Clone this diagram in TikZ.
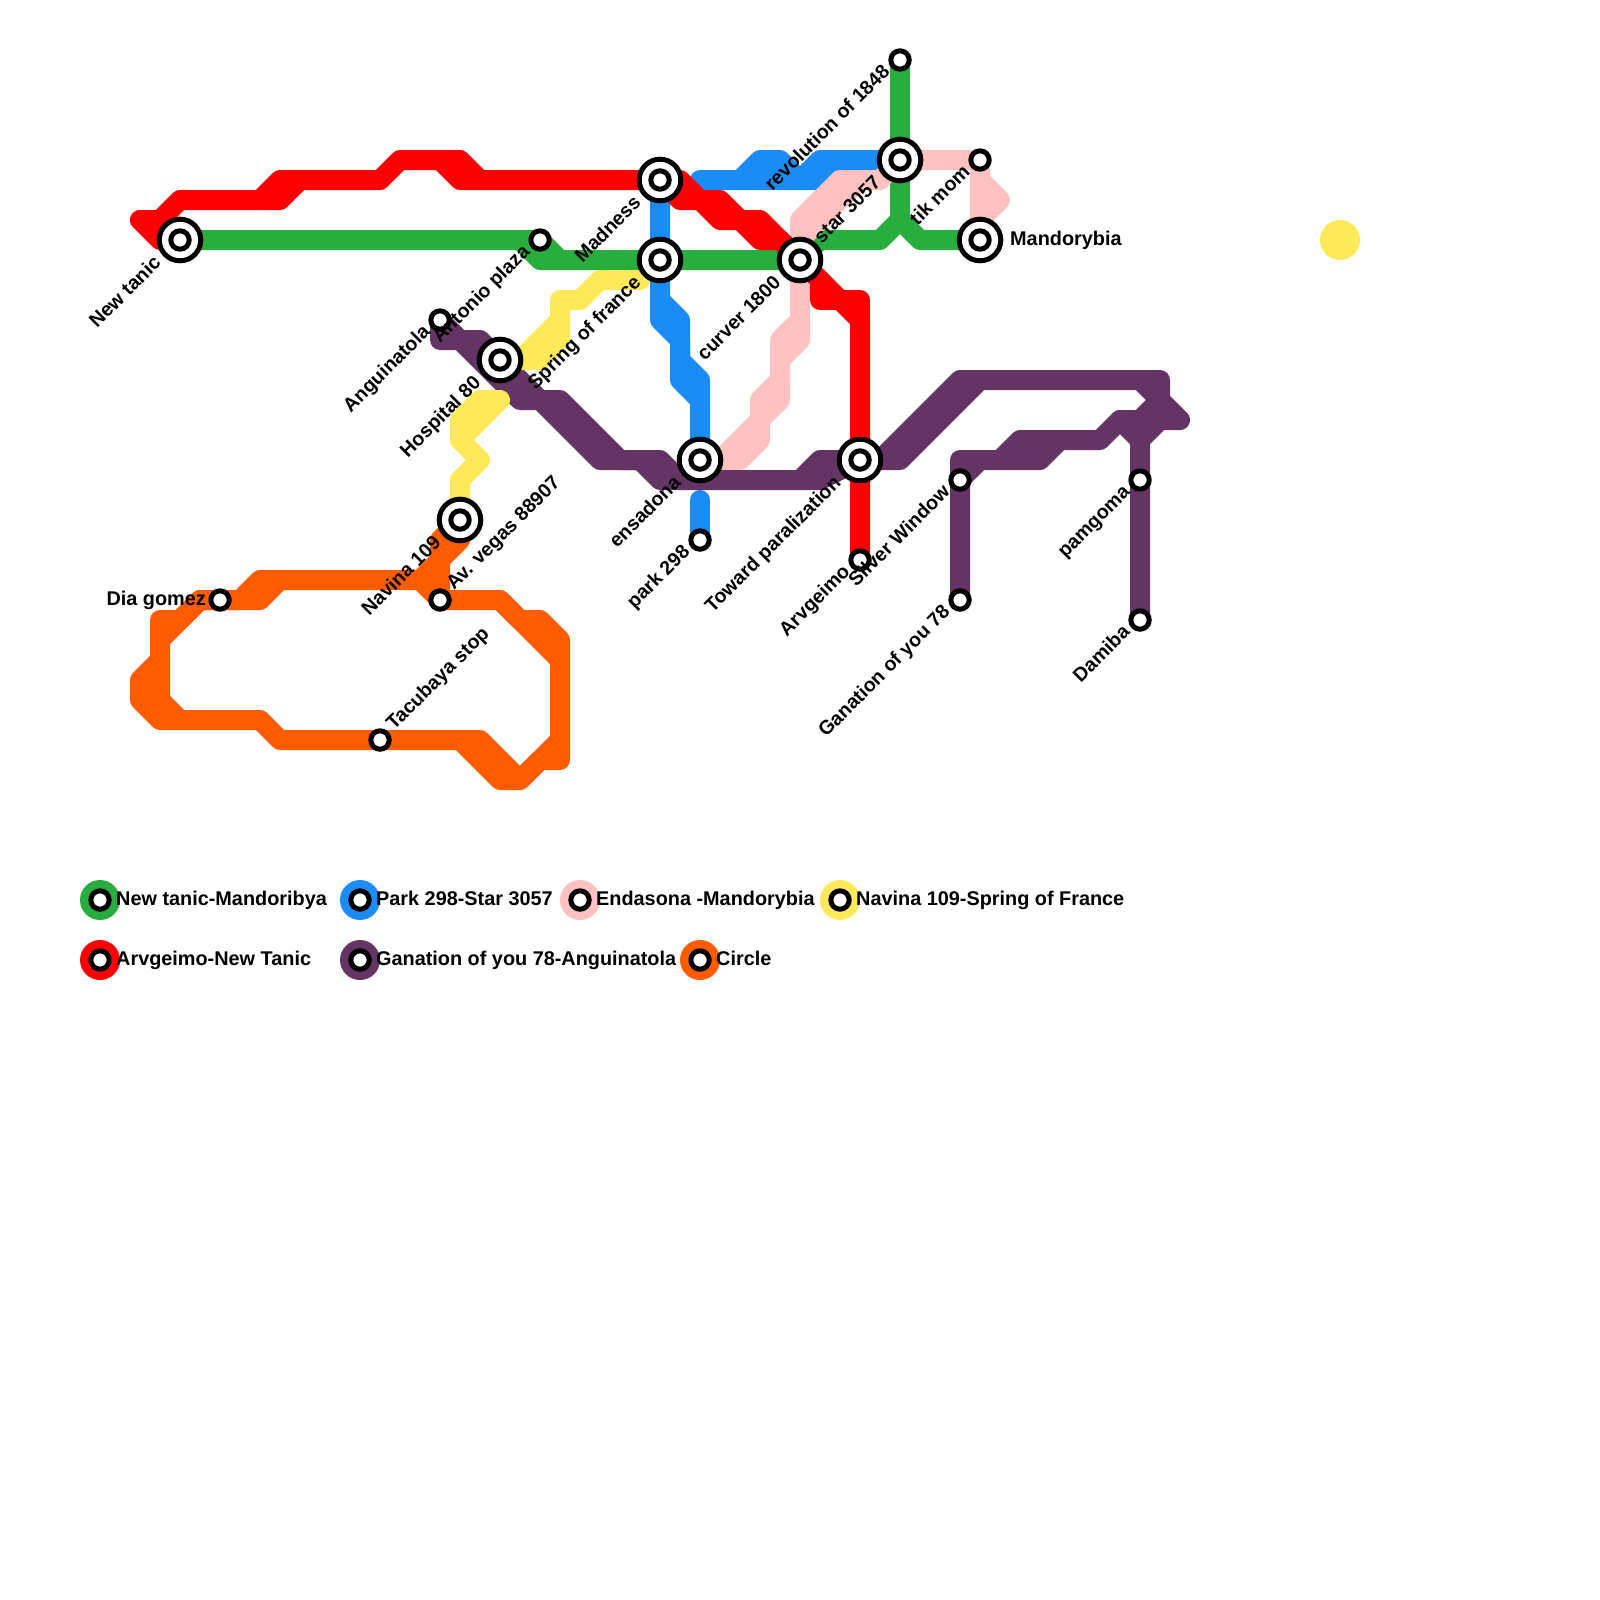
\documentclass[tikz,border=0pt]{standalone}
\usepackage{fontspec}
\setmainfont{Liberation Sans}
\usetikzlibrary{positioning, backgrounds}
\definecolor{linegreen}{RGB}{41,173,63}
\definecolor{lineblue}{RGB}{27,140,245}
\definecolor{linepink}{RGB}{255,193,193}
\definecolor{linered}{RGB}{255,0,0}
\definecolor{linepurple}{RGB}{99,52,100}
\definecolor{lineyellow}{RGB}{255,233,88}
\definecolor{lineorange}{RGB}{255,92,0}

\begin{document}
\begin{tikzpicture}[
    x=1pt, y=-1pt,
    metroline/.style={line width=20pt, line cap=round, line join=round},
    stopnode/.style={circle, draw=black, fill=white, line width=5pt, inner sep=0pt, minimum size=18.4pt},
    hubnode/.style={circle, draw=black, fill=white, line width=5pt, inner sep=0pt, minimum size=41.6pt},
    keydot/.style={circle, inner sep=0pt, minimum size=40pt},
    nametext/.style={font=\fontsize{19.85}{24}\selectfont\bfseries, inner sep=0pt},
    tag/.style={nametext, font=\fontsize{19.6}{24}\selectfont\bfseries, rotate=45, anchor=base east},
    hubtag/.style={below left=24pt and 18pt of #1.center, tag},
    stoptag/.style={below left=13pt and 9pt of #1.center, tag},
    uptag/.style={above right=9pt and 14pt of #1.center, tag, anchor=base west},
    keytext/.style={nametext, anchor=base west},
]
\useasboundingbox (0,0) rectangle (1600,1600);

% Interchanges
\node[hubnode] (newtanic) at (180,240) {};
\node[hubnode] (madness) at (660,180) {};
\node[hubnode] (springfr) at (660,260) {};
\node[hubnode] (curver) at (800,260) {};
\node[hubnode] (star) at (900,160) {};
\node[hubnode] (mandorybia) at (980,240) {};
\node[hubnode] (hospital) at (500,360) {};
\node[hubnode] (navina) at (460,520) {};
\node[hubnode] (ensadona) at (700,460) {};
\node[hubnode] (toward) at (860,460) {};

% Inner rings
\node[stopnode] (newtanicin) at (newtanic) {};
\node[stopnode] (madnessin) at (madness) {};
\node[stopnode] (springfrin) at (springfr) {};
\node[stopnode] (curverin) at (curver) {};
\node[stopnode] (starin) at (star) {};
\node[stopnode] (mandorybiain) at (mandorybia) {};
\node[stopnode] (hospitalin) at (hospital) {};
\node[stopnode] (navinain) at (navina) {};
\node[stopnode] (ensadonain) at (ensadona) {};
\node[stopnode] (towardin) at (toward) {};

% Plain stops
\node[stopnode] (antonio) at (540,240) {};
\node[stopnode] (anguinatola) at (440,320) {};
\node[stopnode] (revolution) at (900,60) {};
\node[stopnode] (tikmom) at (980,160) {};
\node[stopnode] (arvgeimo) at (860,560) {};
\node[stopnode] (park) at (700,540) {};
\node[stopnode] (silver) at (960,480) {};
\node[stopnode] (ganation) at (960,600) {};
\node[stopnode] (pamgoma) at (1140,480) {};
\node[stopnode] (damiba) at (1140,620) {};
\node[stopnode] (dia) at (220,600) {};
\node[stopnode] (avvegas) at (440,600) {};
\node[stopnode] (tacubaya) at (380,740) {};

% Loose dot
\node[keydot, fill=lineyellow] (loosedot) at (1340,240) {};

% Lines
\begin{scope}[on background layer]
\draw[metroline, linegreen] (newtanic.center) -- (antonio.center) -- (560,260) -- (curver.center) -- (820,240) -- (880,240) -- (900,220) -- (920,240) -- (mandorybia.center);
\draw[metroline, linegreen] (520,240) -- (540,260) -- (560,260);
\draw[metroline, linegreen] (revolution.center) -- (900,220);

\draw[metroline, lineblue] (madness.center) -- (springfr.center) -- (660,320) -- (680,340) -- (680,380) -- (700,400) -- (ensadona.center);
\draw[metroline, lineblue] (660,300) -- (680,320) -- (680,360) -- (700,380) -- (700,400);
\draw[metroline, lineblue] (park.center) -- (700,500);
\draw[metroline, lineblue] (700,180) -- (800,180) -- (820,160) -- (star.center);
\draw[metroline, lineblue] (740,180) -- (760,160) -- (780,160) -- (800,180) -- (820,180) -- (840,160);

\draw[metroline, linepink] (curver.center) -- (800,220) -- (840,180) -- (880,180) -- (star.center) -- (tikmom.center) -- (mandorybia.center);
\draw[metroline, linepink] (800,240) -- (860,180);
\draw[metroline, linepink] (980,180) -- (1000,200) -- (980,220);
\draw[metroline, linepink] (curver.center) -- (800,340) -- (780,360) -- (780,400) -- (760,420) -- (760,440) -- (740,460) -- (ensadona.center);
\draw[metroline, linepink] (800,320) -- (780,340) -- (780,380) -- (760,400) -- (760,420) -- (700,480);

\draw[metroline, linepurple] (anguinatola.center) -- (520,400) -- (560,400) -- (620,460) -- (660,460) -- (680,480) -- (820,480) -- (toward.center) -- (900,460) -- (980,380) -- (1160,380) -- (1160,400) -- (1180,420) -- (1160,420) -- (1140,440) -- (damiba.center);
\draw[metroline, linepurple] (anguinatola.center) -- (440,340) -- (480,340) -- (hospital.center) -- (600,460) -- (640,460) -- (660,480) -- (680,480);
\draw[metroline, linepurple] (800,480) -- (820,460) -- (toward.center);
\draw[metroline, linepurple] (880,460) -- (960,380) -- (980,380);
\draw[metroline, linepurple] (1140,380) -- (1160,400) -- (1140,420) -- (1120,420) -- (1100,440) -- (1060,440) -- (1040,460) -- (960,460) -- (ganation.center);
\draw[metroline, linepurple] (1000,460) -- (1020,440) -- (1060,440);
\draw[metroline, linepurple] (silver.center) -- (980,460);
\draw[metroline, linepurple] (1120,420) -- (1140,440);

\draw[metroline, lineyellow] (hospital.center) -- (540,360) -- (560,340) -- (560,300) -- (580,300) -- (600,280) -- (640,280);
\draw[metroline, lineyellow] (520,360) -- (560,320);
\draw[metroline, lineyellow] (navina.center) -- (460,480) -- (480,460) -- (460,440) -- (460,420) -- (480,400) -- (500,400) -- (460,440);

\draw[metroline, lineorange] (navina.center) -- (440,540) -- (avvegas.center) -- (500,600) -- (520,620) -- (540,620) -- (560,640) -- (560,740) -- (520,780) -- (480,740) -- (tacubaya.center) -- (280,740) -- (260,720) -- (180,720) -- (160,700) -- (160,640) -- (200,600) -- (240,600) -- (260,580) -- (420,580) -- (440,600);
\draw[metroline, lineorange] (440,560) -- (420,580);
\draw[metroline, lineorange] (280,580) -- (260,600) -- (200,600) -- (180,620) -- (160,620) -- (160,640);
\draw[metroline, lineorange] (160,660) -- (140,680) -- (140,700) -- (160,720) -- (180,720);
\draw[metroline, lineorange] (460,740) -- (500,780) -- (520,780) -- (540,760) -- (560,760) -- (560,740);
\draw[metroline, lineorange] (500,600) -- (560,660);
\draw[metroline, lineorange] (navina.center) -- (460,540) -- (440,560);

\draw[metroline, linered] (newtanic.center) -- (160,240) -- (140,220) -- (160,220) -- (180,200) -- (280,200) -- (300,180) -- (380,180) -- (400,160) -- (460,160) -- (480,180) -- (madness.center) -- (680,200) -- (700,200) -- (720,220) -- (740,220) -- (760,240) -- (780,240) -- (curver.center) -- (840,300) -- (860,320) -- (arvgeimo.center);
\draw[metroline, linered] (260,200) -- (280,180) -- (300,180);
\draw[metroline, linered] (440,160) -- (460,180) -- (480,180);
\draw[metroline, linered] (madness.center) -- (680,180) -- (700,200) -- (720,200) -- (740,220) -- (760,220) -- (curver.center);
\draw[metroline, linered] (820,280) -- (820,300) -- (860,300) -- (860,320);
\end{scope}

% Station names
\node[hubtag=newtanic] (newtaniclbl) {New tanic};
\node[hubtag=madness] (madnesslbl) {Madness};
\node[hubtag=springfr] (springfrlbl) {Spring of france};
\node[hubtag=curver] (curverlbl) {curver 1800};
\node[hubtag=star] (starlbl) {star 3057};
\node[hubtag=hospital] (hospitallbl) {Hospital 80};
\node[hubtag=navina] (navinalbl) {Navina 109};
\node[hubtag=ensadona] (ensadonalbl) {ensadona};
\node[hubtag=toward] (towardlbl) {Toward paralization};
\node[stoptag=antonio] (antoniolbl) {Antonio plaza};
\node[stoptag=anguinatola] (anguinatolalbl) {Anguinatola};
\node[stoptag=revolution] (revolutionlbl) {revolution of 1848};
\node[stoptag=tikmom] (tikmomlbl) {tik mom};
\node[stoptag=arvgeimo] (arvgeimolbl) {Arvgeimo};
\node[stoptag=park] (parklbl) {park 298};
\node[stoptag=silver] (silverlbl) {Silver Window};
\node[stoptag=ganation] (ganationlbl) {Ganation of you 78};
\node[stoptag=pamgoma] (pamgomalbl) {pamgoma};
\node[stoptag=damiba] (damibalbl) {Damiba};
\node[uptag=avvegas] (avvegaslbl) {Av. vegas 88907};
\node[uptag=tacubaya] (tacubayalbl) {Tacubaya stop};
\node[below left=5pt and 14pt of dia.center, nametext, anchor=base east] (dialbl) {Dia gomez};
\node[below right=5pt and 30pt of mandorybia.center, nametext, anchor=base west] (mandorybialbl) {Mandorybia};

% Legend
\node[keydot, fill=linegreen] (keygreen) at (100,900) {};
\node[stopnode] (keygreenin) at (keygreen) {};
\node[keytext] (keygreenlbl) at (116,905) {New tanic-Mandoribya};
\node[keydot, fill=lineblue] (keyblue) at (360,900) {};
\node[stopnode] (keybluein) at (keyblue) {};
\node[keytext] (keybluelbl) at (376,905) {Park 298-Star 3057};
\node[keydot, fill=linepink] (keypink) at (580,900) {};
\node[stopnode] (keypinkin) at (keypink) {};
\node[keytext] (keypinklbl) at (596,905) {Endasona -Mandorybia};
\node[keydot, fill=lineyellow] (keyyellow) at (840,900) {};
\node[stopnode] (keyyellowin) at (keyyellow) {};
\node[keytext] (keyyellowlbl) at (856,905) {Navina 109-Spring of France};
\node[keydot, fill=linered] (keyred) at (100,960) {};
\node[stopnode] (keyredin) at (keyred) {};
\node[keytext] (keyredlbl) at (116,965) {Arvgeimo-New Tanic};
\node[keydot, fill=linepurple] (keypurple) at (360,960) {};
\node[stopnode] (keypurplein) at (keypurple) {};
\node[keytext] (keypurplelbl) at (376,965) {Ganation of you 78-Anguinatola};
\node[keydot, fill=lineorange] (keyorange) at (700,960) {};
\node[stopnode] (keyorangein) at (keyorange) {};
\node[keytext] (keyorangelbl) at (716,965) {Circle};
\end{tikzpicture}
\end{document}
